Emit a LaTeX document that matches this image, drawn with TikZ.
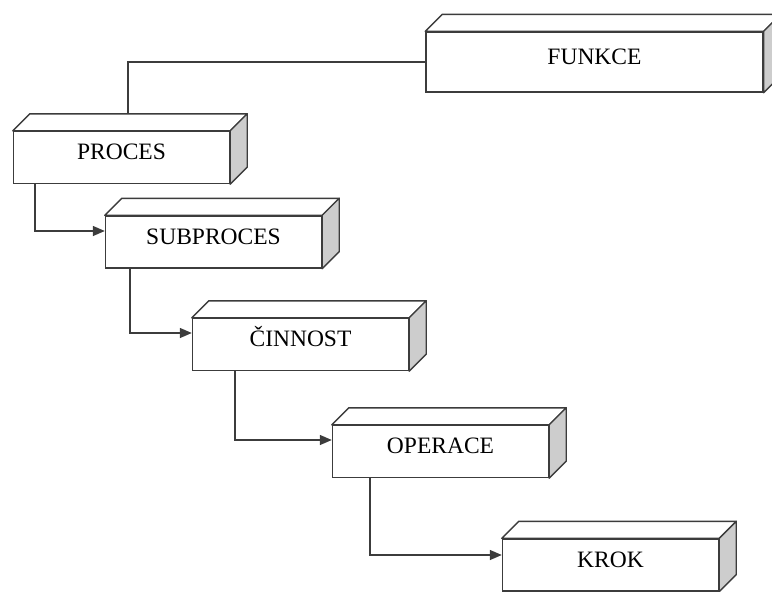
\documentclass[tikz,border=0pt]{standalone}
\usepackage{fontspec}
\setmainfont{Liberation Serif}
\usetikzlibrary{arrows.meta,calc}
\definecolor{edge}{RGB}{60,60,60}
\definecolor{sidegray}{RGB}{205,205,205}
\tikzset{
  box/.style={draw=edge, line width=1.4pt, fill=white, rectangle, inner sep=0pt,
    minimum width=216pt, minimum height=52pt,
    text height=16pt, text depth=12pt, font=\fontsize{23.5}{26}\selectfont},
  topface/.style={draw=edge, line width=1.4pt, fill=white, line join=round},
  sideface/.style={draw=edge, line width=1.4pt, fill=sidegray, line join=round},
  conn/.style={draw=edge, line width=1.4pt},
  arrowconn/.style={conn, -{Triangle[length=12pt,width=10pt]}}
}
\begin{document}
\begin{tikzpicture}[x=1pt,y=-1pt]
  \useasboundingbox (0,0) rectangle (772,592);
  \clip (0,0) rectangle (772,592);
  \def\dep{17}

  % front faces of the cuboids
  \node[box, minimum width=337pt, minimum height=60pt] (funkce) at (594.5,62) {FUNKCE};
  \node[box] (proces) at (121.5,157.5) {PROCES};
  \node[box] (subproces) at (213.5,242) {SUBPROCES};
  \node[box] (cinnost) at (300.5,344.5) {ČINNOST};
  \node[box] (operace) at (440.5,451.5) {OPERACE};
  \node[box] (krok) at (610.5,565) {KROK};

  % top and side faces
  \foreach \n in {funkce,proces,subproces,cinnost,operace,krok} {
    \path[topface] (\n.north west) -- ++(\dep,-\dep)
      -- ($(\n.north east)+(\dep,-\dep)$) -- (\n.north east) -- cycle;
    \path[sideface] (\n.north east) -- ++(\dep,-\dep)
      -- ($(\n.south east)+(\dep,-\dep)$) -- (\n.south east) -- cycle;
  }

  % connectors
  \draw[conn] (funkce.west) -| ($(proces.north)+(6.5,-\dep)$);
  \draw[arrowconn] ($(proces.south west)+(22,0)$) |- ($(subproces.west)+(0,-11)$);
  \draw[arrowconn] ($(subproces.south west)+(25,0)$) |- ($(cinnost.west)+(0,-11.5)$);
  \draw[arrowconn] ($(cinnost.south west)+(43,0)$) |- ($(operace.west)+(0,-11.5)$);
  \draw[arrowconn] ($(operace.south west)+(38,0)$) |- ($(krok.west)+(0,-10)$);
\end{tikzpicture}
\end{document}
